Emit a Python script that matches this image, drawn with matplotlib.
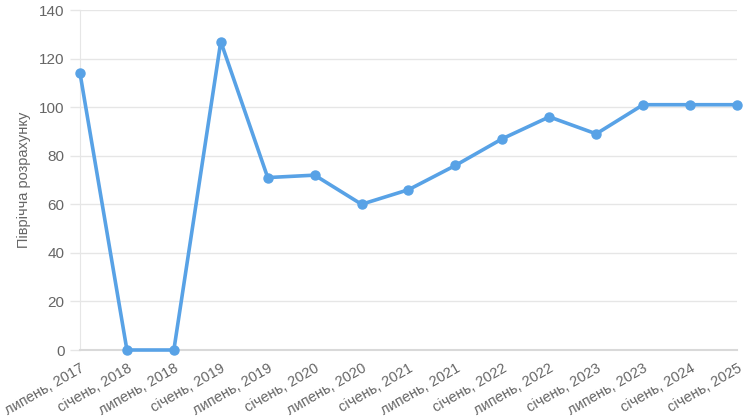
import matplotlib.pyplot as plt

plt.rcParams["font.family"] = ["Liberation Sans", "DejaVu Sans"]

PERIOD_LABELS = [
    "липень, 2017", "січень, 2018", "липень, 2018", "січень, 2019",
    "липень, 2019", "січень, 2020", "липень, 2020", "січень, 2021",
    "липень, 2021", "січень, 2022", "липень, 2022", "січень, 2023",
    "липень, 2023", "січень, 2024", "січень, 2025",
]
VALUES = [114, 0, 0, 127, 71, 72, 60, 66, 76, 87, 96, 89, 101, 101, 101]
Y_TICKS = [0, 20, 40, 60, 80, 100, 120, 140]

LINE_COLOR = "#58a2e6"
TEXT_COLOR = "#666666"
GRID_COLOR = "#e6e6e6"

figure = plt.figure(figsize=(7.5, 4.2), dpi=100)
axis = figure.add_axes([80 / 750, 1 - 350 / 420, (737 - 80) / 750, 340 / 420])

positions = list(range(len(VALUES)))
axis.plot(
    positions,
    VALUES,
    color=LINE_COLOR,
    linewidth=2.6,
    marker="o",
    markersize=6.5,
    clip_on=False,
    zorder=3,
)

axis.set_xlim(0, len(VALUES) - 1)
axis.set_ylim(0, 140)
axis.set_yticks(Y_TICKS)
axis.set_xticks(positions)
axis.set_xticklabels(PERIOD_LABELS, rotation=30, ha="right", rotation_mode="anchor")

axis.tick_params(axis="x", length=0, pad=8, labelsize=10.5, colors=TEXT_COLOR)
axis.tick_params(axis="y", length=7, width=1, color=GRID_COLOR, pad=4,
                 labelsize=11, colors=TEXT_COLOR)
axis.yaxis.grid(True, color=GRID_COLOR, linewidth=1)
axis.set_axisbelow(True)

for side in ["top", "right"]:
    axis.spines[side].set_visible(False)
axis.spines["left"].set_color(GRID_COLOR)
axis.spines["bottom"].set_color("#d9d9d9")
axis.spines["bottom"].set_linewidth(1.5)

axis.set_ylabel("Піврічча розрахунку", color=TEXT_COLOR, fontsize=10.5, labelpad=6)

figure.savefig("out.png", dpi=100)
